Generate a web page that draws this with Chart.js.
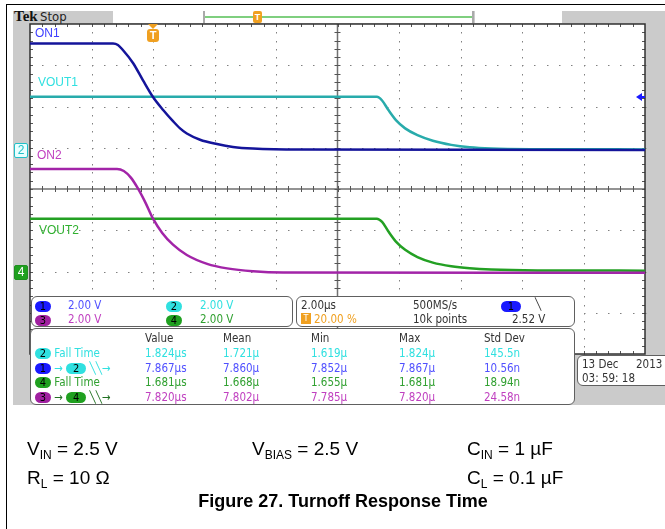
<!DOCTYPE html>
<html>
<head>
<meta charset="utf-8">
<script src="https://cdn.jsdelivr.net/npm/chart.js@4.4.0/dist/chart.umd.min.js"></script>
<style>
  body { margin: 0; width: 665px; height: 529px; overflow: hidden; background: #fff; position: relative; font-family: "Liberation Sans", Arial, sans-serif; }
  .abs { position: absolute; white-space: nowrap; }
  .frame { position: absolute; left: 6px; top: 4px; width: 700px; height: 600px; border-left: 1.5px solid #000; border-top: 1.5px solid #000; }
  .scope { position: absolute; left: 13px; top: 11px; width: 652px; height: 394px; background: #cbcbcb; }
  #chart { position: absolute; left: 0; top: 0; }
  .panel { position: absolute; background: #fff; border: 1px solid #606060; border-radius: 6px; box-sizing: border-box; }
  .scr { font-family: "DejaVu Sans Condensed", "Liberation Sans Narrow", "Liberation Sans", sans-serif; font-size: 11.5px; }
  .pill { display: inline-block; width: 16px; height: 11px; border-radius: 6px; text-align: center; line-height: 11px; font-size: 11px; color: #000; vertical-align: middle; }
  .lbl { font-size: 12px; }
  .fig { font-size: 19px; color: #000; }
  .fig sub { font-size: 12px; vertical-align: -4px; }
</style>
</head>
<body>
<div class="frame"></div>
<div class="scope"></div>

<!-- top status bar -->
<div class="abs" style="left:14px;top:8px;font-family:'Liberation Serif',serif;font-weight:bold;font-size:15px;color:#111">Tek</div>
<div class="abs scr" style="left:40px;top:9px;font-size:13px;color:#222">Stop</div>
<div class="abs" style="left:113px;top:11px;width:449px;height:12px;background:#fff;"></div>
<div class="abs" style="left:203px;top:11px;width:2px;height:12px;background:#aaa"></div>
<div class="abs" style="left:472px;top:11px;width:2px;height:12px;background:#aaa"></div>
<div class="abs" style="left:474px;top:11px;width:1px;height:12px;background:#ccc"></div>
<div class="abs" style="left:205px;top:16px;width:267px;height:2px;background:#7fcf7f"></div>
<div class="abs" style="left:253px;top:11px;width:9px;height:12px;background:#f0a020;border-radius:2px;color:#fff;font-size:9px;line-height:13px;text-align:center;font-weight:bold">T</div>

<canvas id="chart" width="665" height="529"></canvas>

<!-- trace labels -->
<div class="abs lbl" style="left:35px;top:26px;color:#4040ff">ON1</div>
<div class="abs lbl" style="left:38px;top:75px;color:#30e0e0">VOUT1</div>
<div class="abs lbl" style="left:37px;top:148px;color:#c040c0">ON2</div>
<div class="abs lbl" style="left:39px;top:223px;color:#30b030">VOUT2</div>

<!-- trigger marker and level -->
<div class="abs" style="left:148px;top:24px;width:0;height:0;border-left:5px solid transparent;border-right:5px solid transparent;border-top:5px solid #f0a020"></div>
<div class="abs" style="left:147px;top:29px;width:12px;height:13px;background:#f0a020;border-radius:3px;color:#fff;font-size:11px;line-height:13px;text-align:center;font-weight:bold">T</div>
<div class="abs" style="left:636px;top:93px;width:0;height:0;border-top:4px solid transparent;border-bottom:4px solid transparent;border-right:6px solid #1a1aff"></div>
<div class="abs" style="left:640px;top:96px;width:5px;height:2px;background:#1a1aff"></div>

<!-- channel markers -->
<div class="abs" style="left:14px;top:143px;width:12px;height:13px;border:1px solid #20c0c8;background:#e8ffff;color:#20c0c8;font-size:12px;line-height:13px;text-align:center;border-radius:2px">2</div>
<div class="abs" style="left:14px;top:265px;width:12px;height:13px;border:1px solid #209020;background:#20a020;color:#fff;font-size:12px;line-height:13px;text-align:center;border-radius:2px">4</div>

<!-- channel panel -->
<div class="panel scr" style="left:31px;top:296px;width:262px;height:31px">
  <div class="abs" style="left:3px;top:2px"><span class="pill" style="background:#1a1aff">1</span></div>
  <div class="abs" style="left:36px;top:1px;color:#5050ff">2.00 V</div>
  <div class="abs" style="left:134px;top:2px"><span class="pill" style="background:#30e0e0">2</span></div>
  <div class="abs" style="left:168px;top:1px;color:#30e0e0">2.00 V</div>
  <div class="abs" style="left:3px;top:16px"><span class="pill" style="background:#a020a0">3</span></div>
  <div class="abs" style="left:36px;top:15px;color:#c040c0">2.00 V</div>
  <div class="abs" style="left:134px;top:16px"><span class="pill" style="background:#20a020">4</span></div>
  <div class="abs" style="left:168px;top:15px;color:#30a030">2.00 V</div>
</div>

<!-- timebase panel -->
<div class="panel scr" style="left:296px;top:296px;width:279px;height:31px;color:#333">
  <div class="abs" style="left:4px;top:1px">2.00µs</div>
  <div class="abs" style="left:116px;top:1px">500MS/s</div>
  <div class="abs" style="left:204px;top:2px"><span class="pill" style="background:#1a1aff;width:20px">1</span></div>
  <div class="abs" style="left:238px;top:0px">╲</div>
  <div class="abs" style="left:4px;top:16px;width:10px;height:11px;background:#f0a020;color:#fff;font-size:9px;line-height:11px;text-align:center">T</div>
  <div class="abs" style="left:17px;top:15px;color:#f0a020">20.00 %</div>
  <div class="abs" style="left:116px;top:15px">10k points</div>
  <div class="abs" style="left:215px;top:15px">2.52 V</div>
</div>

<!-- measurement panel -->
<div class="panel scr" style="left:30px;top:328px;width:545px;height:77px">
  <div class="abs" style="left:114px;top:2px;color:#333">Value</div>
  <div class="abs" style="left:192px;top:2px;color:#333">Mean</div>
  <div class="abs" style="left:280px;top:2px;color:#333">Min</div>
  <div class="abs" style="left:368px;top:2px;color:#333">Max</div>
  <div class="abs" style="left:453px;top:2px;color:#333">Std Dev</div>

  <div class="abs" style="left:4px;top:17px"><span class="pill" style="background:#30e0e0">2</span> <span style="color:#30e0e0">Fall Time</span></div>
  <div class="abs" style="left:114px;top:17px;color:#30e0e0">1.824µs</div>
  <div class="abs" style="left:192px;top:17px;color:#30e0e0">1.721µ</div>
  <div class="abs" style="left:280px;top:17px;color:#30e0e0">1.619µ</div>
  <div class="abs" style="left:368px;top:17px;color:#30e0e0">1.824µ</div>
  <div class="abs" style="left:453px;top:17px;color:#30e0e0">145.5n</div>

  <div class="abs" style="left:4px;top:32px"><span class="pill" style="background:#1a1aff">1</span><span style="color:#30e0e0"> → </span><span class="pill" style="background:#30e0e0;width:20px">2</span><span style="color:#30e0e0"> ╲╲→</span></div>
  <div class="abs" style="left:114px;top:32px;color:#5050ff">7.867µs</div>
  <div class="abs" style="left:192px;top:32px;color:#5050ff">7.860µ</div>
  <div class="abs" style="left:280px;top:32px;color:#5050ff">7.852µ</div>
  <div class="abs" style="left:368px;top:32px;color:#5050ff">7.867µ</div>
  <div class="abs" style="left:453px;top:32px;color:#5050ff">10.56n</div>

  <div class="abs" style="left:4px;top:46px"><span class="pill" style="background:#20a020">4</span> <span style="color:#30a030">Fall Time</span></div>
  <div class="abs" style="left:114px;top:46px;color:#30a030">1.681µs</div>
  <div class="abs" style="left:192px;top:46px;color:#30a030">1.668µ</div>
  <div class="abs" style="left:280px;top:46px;color:#30a030">1.655µ</div>
  <div class="abs" style="left:368px;top:46px;color:#30a030">1.681µ</div>
  <div class="abs" style="left:453px;top:46px;color:#30a030">18.94n</div>

  <div class="abs" style="left:4px;top:61px"><span class="pill" style="background:#a020a0">3</span><span style="color:#207020"> → </span><span class="pill" style="background:#20a020;width:20px">4</span><span style="color:#207020"> ╲╲→</span></div>
  <div class="abs" style="left:114px;top:61px;color:#c040c0">7.820µs</div>
  <div class="abs" style="left:192px;top:61px;color:#c040c0">7.802µ</div>
  <div class="abs" style="left:280px;top:61px;color:#c040c0">7.785µ</div>
  <div class="abs" style="left:368px;top:61px;color:#c040c0">7.820µ</div>
  <div class="abs" style="left:453px;top:61px;color:#c040c0">24.58n</div>
</div>

<!-- date panel -->
<div class="panel scr" style="left:577px;top:355px;width:95px;height:31px;color:#333">
  <div class="abs" style="left:4px;top:1px">13 Dec</div>
  <div class="abs" style="left:58px;top:1px">2013</div>
  <div class="abs" style="left:4px;top:15px">03: 59: 18</div>
</div>

<!-- figure annotations -->
<div class="abs fig" style="left:27px;top:438px">V<sub>IN</sub> = 2.5 V</div>
<div class="abs fig" style="left:252px;top:438px">V<sub>BIAS</sub> = 2.5 V</div>
<div class="abs fig" style="left:467px;top:438px">C<sub>IN</sub> = 1 µF</div>
<div class="abs fig" style="left:27px;top:467px">R<sub>L</sub> = 10 Ω</div>
<div class="abs fig" style="left:467px;top:467px">C<sub>L</sub> = 0.1 µF</div>
<div class="abs" style="left:0;width:686px;top:491px;text-align:center;font-weight:bold;font-size:18px;color:#000">Figure 27. Turnoff Response Time</div>

<script>
// time in µs (trigger at 0), voltages in V
const on1Time  = [-4, -1.3, -1.14, -0.98, -0.65, -0.33, 0, 0.33, 0.65, 0.88, 1.1, 1.53, 2.08, 2.6, 3.25, 4.8, 16];
const on1Volts = [5.16, 5.16, 5.09, 4.85, 4.22, 3.39, 2.57, 1.94, 1.4, 1.05, 0.8, 0.5, 0.29, 0.15, 0.07, 0.02, 0.0];

const vout1Time  = [-4, 7.28, 7.45, 7.65, 7.9, 8.2, 8.6, 9.1, 9.7, 10.3, 11.0, 12.5, 16];
const vout1Volts = [2.58, 2.58, 2.40, 1.95, 1.45, 1.05, 0.72, 0.45, 0.25, 0.13, 0.07, 0.04, 0.03];

const on2Time  = [-4, -1.17, -0.95, -0.72, -0.5, -0.25, 0, 0.3, 0.65, 1.1, 1.76, 2.41, 3.25, 4.23, 16];
const on2Volts = [5.02, 5.02, 4.92, 4.6, 4.1, 3.4, 2.61, 1.92, 1.35, 0.85, 0.42, 0.2, 0.06, 0.0, -0.01];

const vout2Time  = [-4, 7.28, 7.45, 7.65, 7.9, 8.2, 8.6, 9.1, 9.7, 10.3, 11.0, 12.5, 16];
const vout2Volts = [2.61, 2.61, 2.45, 2.0, 1.5, 1.1, 0.75, 0.48, 0.3, 0.2, 0.14, 0.1, 0.09];

// scope settings
const VOLTS_PER_DIV = 2;
const TIME_MIN = -4, TIME_MAX = 16, TIME_PER_DIV = 2;
const DIV_MIN = -4, DIV_MAX = 4;
const ch12Ground = 0.945;   // divisions from screen centre
const ch34Ground = -2.024;

function trace(times, volts, ground) {
  return times.map((t, i) => ({ x: t, y: ground + volts[i] / VOLTS_PER_DIV }));
}

const scopeGrid = {
  id: 'scopeGrid',
  beforeDraw(chart) {
    const { ctx, chartArea: a } = chart;
    ctx.save();
    ctx.fillStyle = '#fff';
    ctx.fillRect(a.left, a.top, a.right - a.left, a.bottom - a.top);
    ctx.restore();
  },
  beforeDatasetsDraw(chart) {
    const { ctx, chartArea: a, scales: { x, y } } = chart;
    const xCenter = (TIME_MIN + TIME_MAX) / 2;
    const nx = (TIME_MAX - TIME_MIN) / TIME_PER_DIV;
    const ny = DIV_MAX - DIV_MIN;
    ctx.save();
    ctx.fillStyle = '#808080';
    // dotted graticule
    for (let i = 1; i < nx; i++) {
      if (i === nx / 2) continue;
      const px = Math.round(x.getPixelForValue(TIME_MIN + i * TIME_PER_DIV));
      for (let k = 0; k <= ny * 5; k++) ctx.fillRect(px, Math.round(y.getPixelForValue(DIV_MIN + k / 5)), 1, 1.5);
    }
    for (let j = 1; j < ny; j++) {
      if (j === ny / 2) continue;
      const py = Math.round(y.getPixelForValue(DIV_MIN + j));
      for (let k = 0; k <= nx * 5; k++) ctx.fillRect(Math.round(x.getPixelForValue(TIME_MIN + k * TIME_PER_DIV / 5)), py, 1.5, 1);
    }
    // centre cross
    const cx = x.getPixelForValue(xCenter), cy = y.getPixelForValue(0);
    ctx.strokeStyle = '#707070';
    ctx.lineWidth = 1.5;
    ctx.beginPath();
    ctx.moveTo(cx, a.top); ctx.lineTo(cx, a.bottom);
    ctx.moveTo(a.left, cy); ctx.lineTo(a.right, cy);
    ctx.stroke();
    ctx.lineWidth = 1;
    ctx.strokeStyle = '#555';
    ctx.beginPath();
    for (let k = 1; k < nx * 5; k++) {
      const px = Math.round(x.getPixelForValue(TIME_MIN + k * TIME_PER_DIV / 5)) + 0.5;
      ctx.moveTo(px, cy - 3); ctx.lineTo(px, cy + 3);
      ctx.moveTo(px, a.top); ctx.lineTo(px, a.top + 3);
      ctx.moveTo(px, a.bottom); ctx.lineTo(px, a.bottom - 3);
    }
    for (let k = 1; k < ny * 5; k++) {
      const py = Math.round(y.getPixelForValue(DIV_MIN + k / 5)) + 0.5;
      ctx.moveTo(cx - 3, py); ctx.lineTo(cx + 3, py);
      ctx.moveTo(a.left, py); ctx.lineTo(a.left + 3, py);
      ctx.moveTo(a.right, py); ctx.lineTo(a.right - 3, py);
    }
    ctx.stroke();
    ctx.strokeStyle = '#303030';
    ctx.lineWidth = 1.5;
    ctx.strokeRect(a.left, a.top, a.right - a.left, a.bottom - a.top);
    ctx.restore();
  }
};

new Chart(document.getElementById('chart'), {
  type: 'line',
  data: {
    datasets: [
      { label: 'ON1', data: trace(on1Time, on1Volts, ch12Ground), borderColor: '#14149a' },
      { label: 'VOUT1', data: trace(vout1Time, vout1Volts, ch12Ground), borderColor: '#28abab' },
      { label: 'ON2', data: trace(on2Time, on2Volts, ch34Ground), borderColor: '#a224a8' },
      { label: 'VOUT2', data: trace(vout2Time, vout2Volts, ch34Ground), borderColor: '#23a023' }
    ]
  },
  options: {
    responsive: false,
    animation: false,
    layout: { padding: { left: 30, top: 24, right: 20, bottom: 175 } },
    plugins: { legend: { display: false }, tooltip: { enabled: false } },
    elements: {
      point: { radius: 0 },
      line: { borderWidth: 2.5, cubicInterpolationMode: 'monotone' }
    },
    scales: {
      x: { type: 'linear', min: TIME_MIN, max: TIME_MAX, display: false },
      y: { type: 'linear', min: DIV_MIN, max: DIV_MAX, display: false }
    }
  },
  plugins: [scopeGrid]
});
</script>
</body>
</html>
